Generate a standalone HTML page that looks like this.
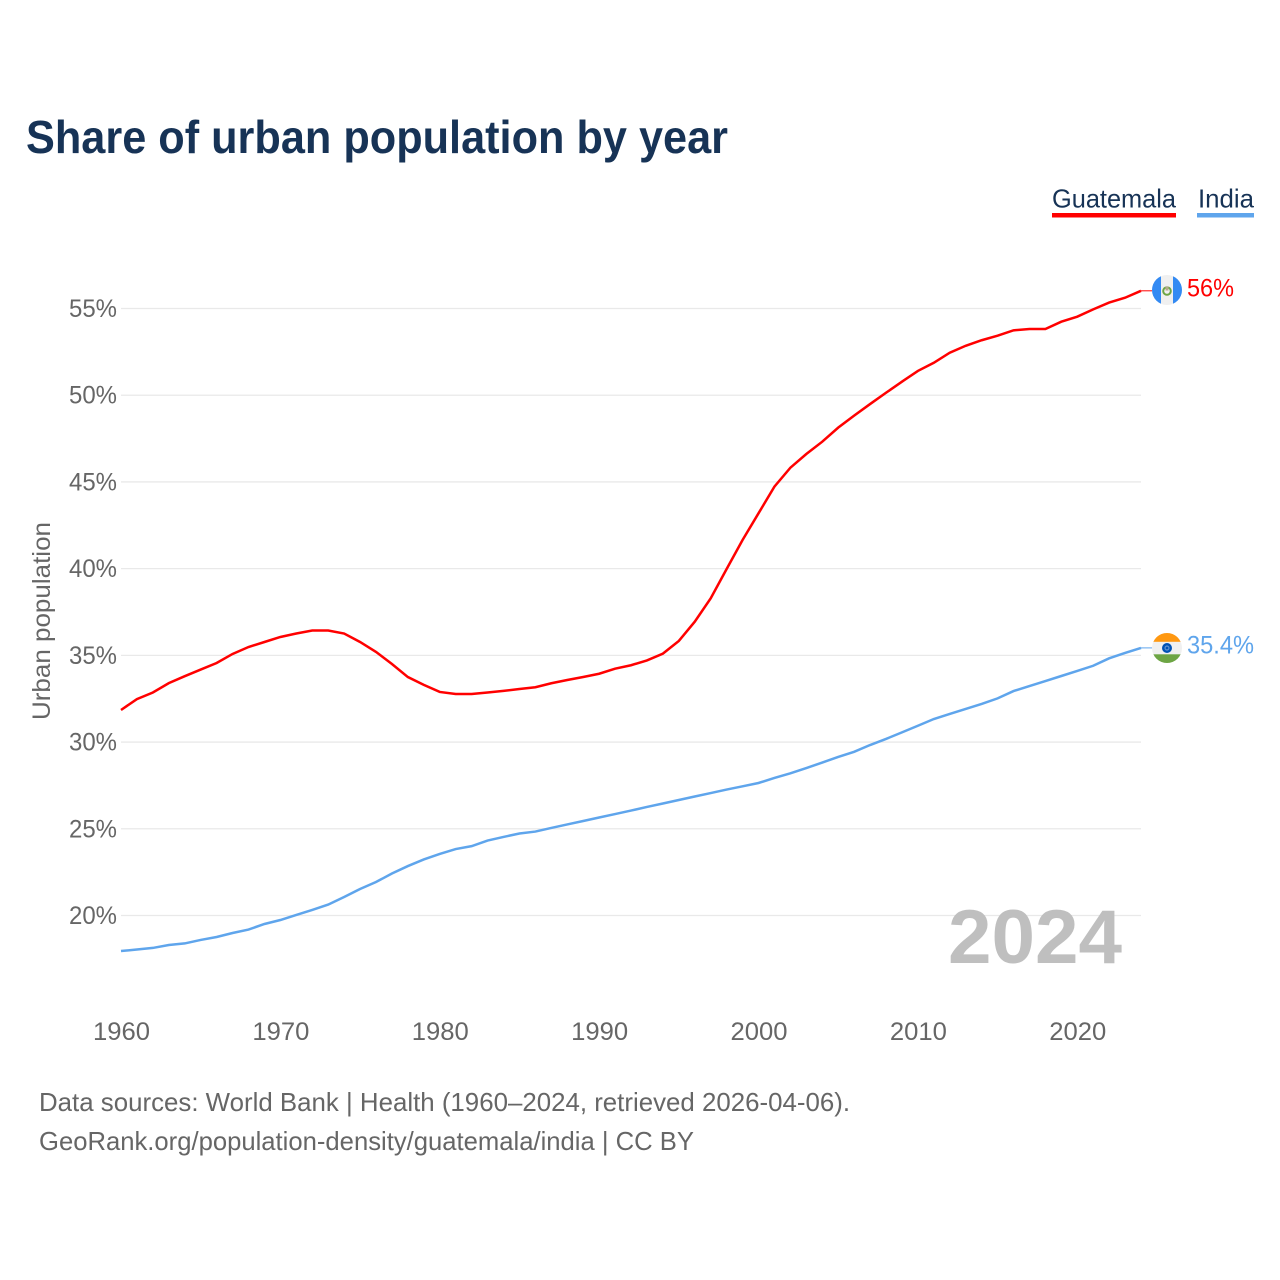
<!DOCTYPE html>
<html lang="en">
<head>
<meta charset="utf-8">
<title>Share of urban population by year</title>
<style>
html,body{margin:0;padding:0;background:#fff;}
svg{display:block;}
text{font-family:"Liberation Sans",sans-serif;}
</style>
</head>
<body>
<svg id="chart" xmlns="http://www.w3.org/2000/svg" width="1280" height="1280" viewBox="0 0 1280 1280">
  <rect width="1280" height="1280" fill="#ffffff"/>
  <text x="26" y="153" font-size="46" font-weight="700" fill="#173356" textLength="702" lengthAdjust="spacingAndGlyphs">Share of urban population by year</text>

  <g>
    <text x="1052" y="207.5" font-size="26" fill="#173356" textLength="124" lengthAdjust="spacingAndGlyphs">Guatemala</text>
    <rect x="1052" y="213" width="124" height="4.5" fill="#ff0000"/>
  </g>
  <g>
    <text x="1198" y="207.5" font-size="26" fill="#173356" textLength="56" lengthAdjust="spacingAndGlyphs">India</text>
    <rect x="1197" y="213" width="57" height="4.5" fill="#5fa5ec"/>
  </g>

  <g id="grid"></g>
  <g id="yaxis"></g>
  <g id="xaxis"></g>

  <text transform="translate(50,621) rotate(-90)" text-anchor="middle" font-size="25" fill="#666666" textLength="198" lengthAdjust="spacingAndGlyphs">Urban population</text>

  <text x="948" y="963" font-size="76" font-weight="700" fill="#bfbfbf" textLength="174" lengthAdjust="spacingAndGlyphs">2024</text>

  <g id="series"></g>

  <defs>
    <clipPath id="clip-gt"><circle cx="1167" cy="290" r="15"/></clipPath>
    <clipPath id="clip-in"><circle cx="1167" cy="648" r="15"/></clipPath>
  </defs>
  <g clip-path="url(#clip-gt)">
    <rect x="1152" y="275" width="30" height="30" fill="#f0f0f0"/>
    <rect x="1152" y="275" width="9" height="30" fill="#338af3"/>
    <rect x="1173" y="275" width="9" height="30" fill="#338af3"/>
    <circle cx="1167" cy="291" r="3.8" fill="none" stroke="#6da544" stroke-width="2"/>
    <rect x="1165.5" y="286.5" width="3" height="4" fill="#b8a98a"/>
  </g>
  <g clip-path="url(#clip-in)">
    <rect x="1152" y="633" width="30" height="30" fill="#f0f0f0"/>
    <rect x="1152" y="633" width="30" height="8.8" fill="#ff9811"/>
    <rect x="1152" y="654.3" width="30" height="8.8" fill="#6da544"/>
    <circle cx="1167" cy="648" r="5" fill="#0052b4"/>
    <circle cx="1167" cy="648" r="2.6" fill="#5b8fd0"/>
    <circle cx="1167" cy="648" r="1.3" fill="#0052b4"/>
  </g>

  <text x="1187" y="296.5" font-size="25" fill="#ff0000" textLength="47" lengthAdjust="spacingAndGlyphs">56%</text>
  <text x="1187" y="653.5" font-size="25" fill="#5fa5ec" textLength="67" lengthAdjust="spacingAndGlyphs">35.4%</text>

  <text x="39" y="1111" font-size="26" fill="#666666" textLength="811" lengthAdjust="spacingAndGlyphs">Data sources: World Bank | Health (1960–2024, retrieved 2026-04-06).</text>
  <text x="39" y="1150" font-size="26" fill="#666666" textLength="655" lengthAdjust="spacingAndGlyphs">GeoRank.org/population-density/guatemala/india | CC BY</text>
</svg>
<script>
const startYear = 1960;
const yTickValues = [20, 25, 30, 35, 40, 45, 50, 55];
const xTickValues = [1960, 1970, 1980, 1990, 2000, 2010, 2020];
const guatemala = [
  31.85, 32.48, 32.86, 33.4, 33.8, 34.18, 34.56, 35.08, 35.48, 35.77,
  36.06, 36.26, 36.43, 36.43, 36.26, 35.77, 35.2, 34.5, 33.75, 33.3,
  32.89, 32.77, 32.77, 32.86, 32.95, 33.06, 33.16, 33.39, 33.58, 33.75,
  33.94, 34.23, 34.43, 34.71, 35.1, 35.83, 36.94, 38.29, 39.98, 41.65,
  43.19, 44.73, 45.82, 46.61, 47.32, 48.13, 48.82, 49.49, 50.14, 50.78,
  51.4, 51.87, 52.45, 52.85, 53.17, 53.43, 53.74, 53.82, 53.82, 54.24,
  54.53, 54.95, 55.34, 55.62, 56.02
];
const india = [
  17.95, 18.04, 18.13, 18.3, 18.39, 18.59, 18.76, 18.99, 19.19, 19.51,
  19.74, 20.03, 20.32, 20.63, 21.07, 21.53, 21.93, 22.42, 22.85, 23.23,
  23.55, 23.83, 24.0, 24.32, 24.53, 24.73, 24.84, 25.05, 25.25, 25.45,
  25.65, 25.85, 26.05, 26.26, 26.46, 26.66, 26.86, 27.06, 27.26, 27.45,
  27.64, 27.93, 28.2, 28.5, 28.82, 29.14, 29.44, 29.83, 30.18, 30.56,
  30.94, 31.33, 31.62, 31.91, 32.2, 32.52, 32.94, 33.23, 33.52, 33.81,
  34.1, 34.4, 34.83, 35.14, 35.43
];

const NS = 'http://www.w3.org/2000/svg';
const xPos = function (year) { return 121 + (year - 1960) * (1020 / 64); };
const yPos = function (v) { return 915.5 - (v - 20) * (607 / 35); };

const grid = document.getElementById('grid');
const yaxis = document.getElementById('yaxis');
const xaxis = document.getElementById('xaxis');
const series = document.getElementById('series');

yTickValues.forEach(function (v) {
  const line = document.createElementNS(NS, 'line');
  
  
  line.setAttribute('x1', 121);
  line.setAttribute('x2', 1141);
  line.setAttribute('y1', yPos(v));
  line.setAttribute('y2', yPos(v));
  line.setAttribute('stroke', '#e9e9e9');
  line.setAttribute('stroke-width', '1.3');
  grid.appendChild(line);

  const label = document.createElementNS(NS, 'text');
  
  
  label.setAttribute('x', 69);
  label.setAttribute('y', yPos(v) + 8.5);
  label.setAttribute('font-size', '25');
  label.setAttribute('fill', '#666666');
  label.setAttribute('textLength', '48');
  label.setAttribute('lengthAdjust', 'spacingAndGlyphs');
  label.textContent = v + '%';
  yaxis.appendChild(label);
});

xTickValues.forEach(function (year) {
  const label = document.createElementNS(NS, 'text');
  
  
  label.setAttribute('x', xPos(year) - 28);
  label.setAttribute('y', 1040);
  label.setAttribute('font-size', '25');
  label.setAttribute('fill', '#666666');
  label.setAttribute('textLength', '57');
  label.setAttribute('lengthAdjust', 'spacingAndGlyphs');
  label.textContent = year;
  xaxis.appendChild(label);
});

function pathFor(values) {
  return values.map(function (v, i) {
    return (i ? 'L' : 'M') + xPos(startYear + i).toFixed(2) + ' ' + yPos(v).toFixed(2);
  }).join(' ');
}

const guatemalaLine = document.createElementNS(NS, 'path');


guatemalaLine.setAttribute('d', pathFor(guatemala));
guatemalaLine.setAttribute('fill', 'none');
guatemalaLine.setAttribute('stroke', '#ff0000');
guatemalaLine.setAttribute('stroke-width', '2.5');
series.appendChild(guatemalaLine);

const indiaLine = document.createElementNS(NS, 'path');


indiaLine.setAttribute('d', pathFor(india));
indiaLine.setAttribute('fill', 'none');
indiaLine.setAttribute('stroke', '#5fa5ec');
indiaLine.setAttribute('stroke-width', '2.5');
series.appendChild(indiaLine);

const guatemalaLeader = document.createElementNS(NS, 'line');


guatemalaLeader.setAttribute('x1', xPos(2024));
guatemalaLeader.setAttribute('x2', xPos(2024) + 11);
guatemalaLeader.setAttribute('y1', yPos(guatemala[guatemala.length - 1]));
guatemalaLeader.setAttribute('y2', yPos(guatemala[guatemala.length - 1]));
guatemalaLeader.setAttribute('stroke', '#ff0000');
guatemalaLeader.setAttribute('stroke-width', '1');
series.appendChild(guatemalaLeader);

const indiaLeader = document.createElementNS(NS, 'line');


indiaLeader.setAttribute('x1', xPos(2024));
indiaLeader.setAttribute('x2', xPos(2024) + 11);
indiaLeader.setAttribute('y1', yPos(india[india.length - 1]));
indiaLeader.setAttribute('y2', yPos(india[india.length - 1]));
indiaLeader.setAttribute('stroke', '#5fa5ec');
indiaLeader.setAttribute('stroke-width', '1');
series.appendChild(indiaLeader);
</script>
</body>
</html>
